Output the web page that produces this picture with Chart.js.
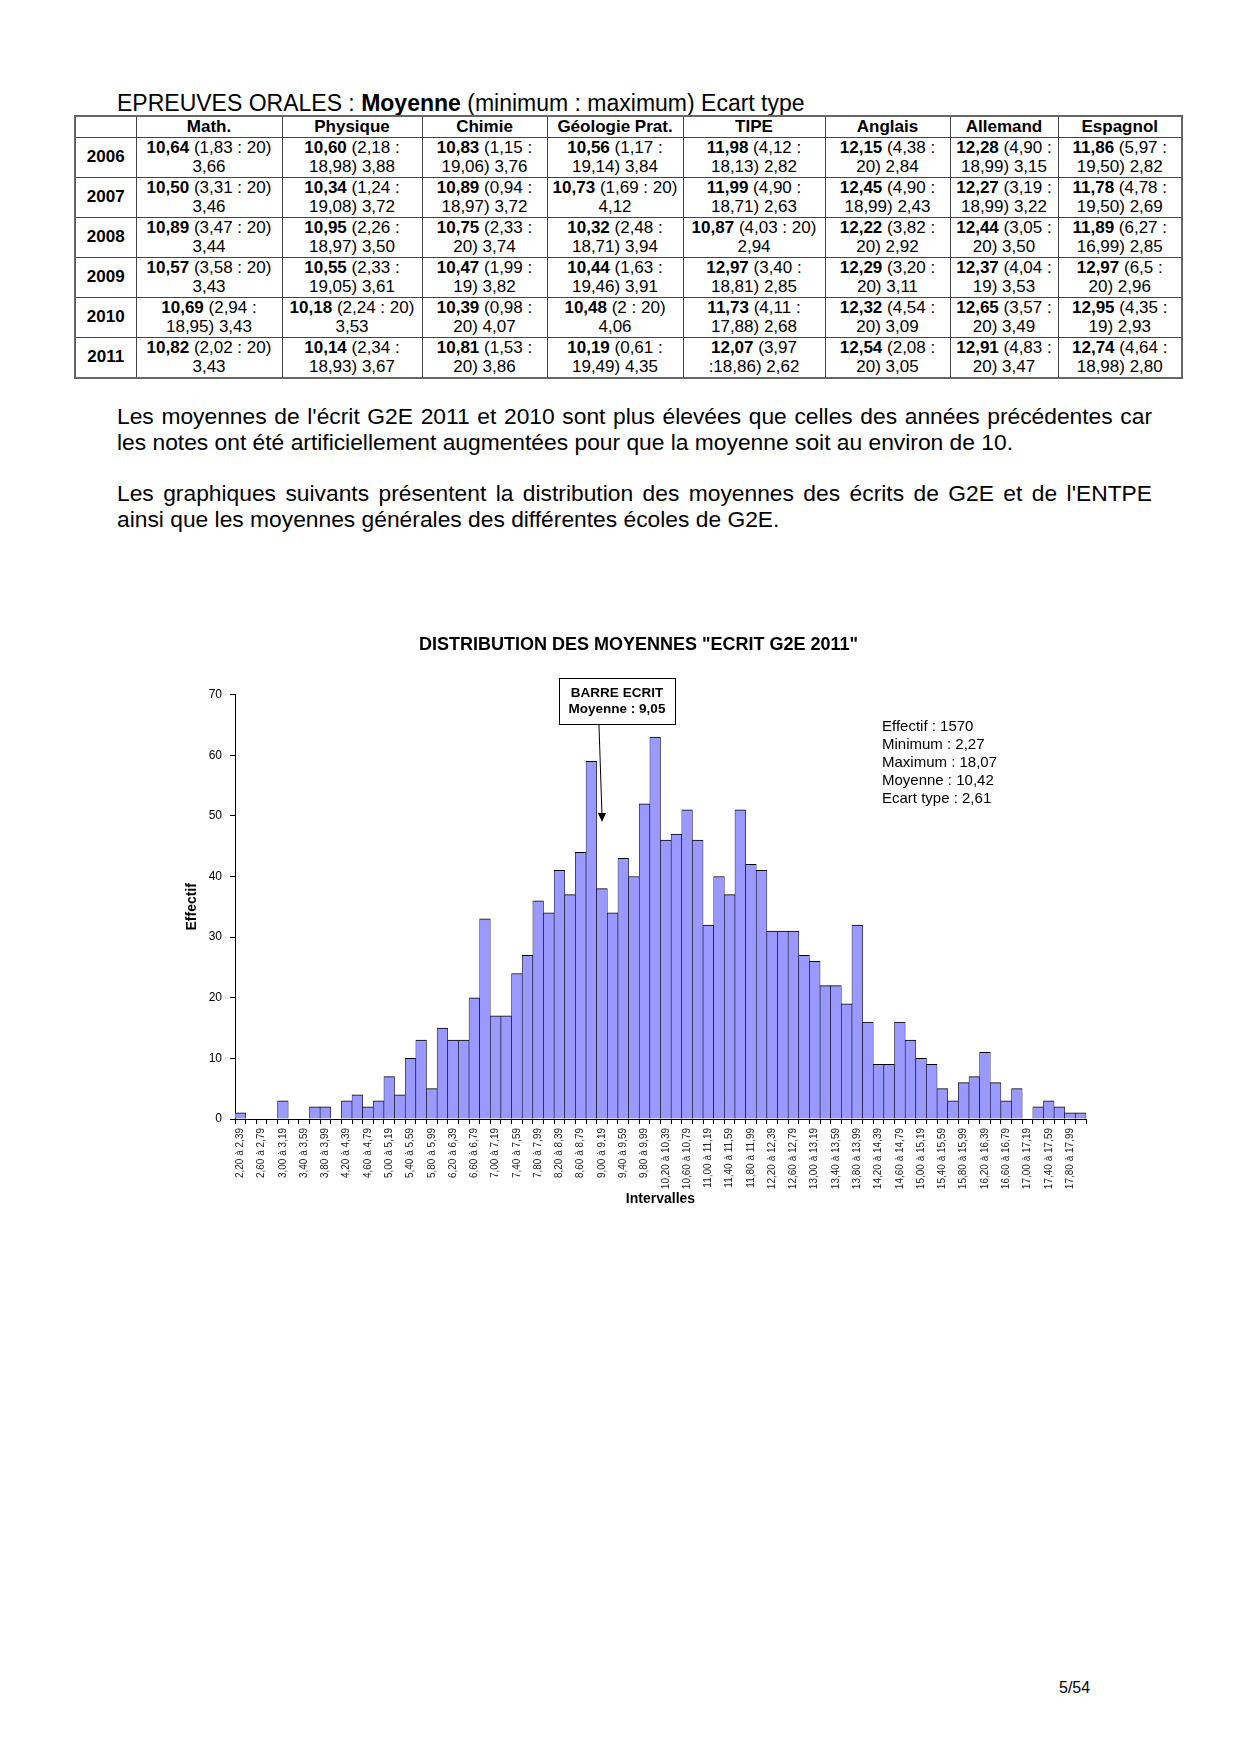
<!DOCTYPE html>
<html lang="fr">
<head>
<meta charset="utf-8">
<title>Distribution des moyennes - Ecrit G2E 2011</title>
<script src="https://cdn.jsdelivr.net/npm/chart.js@4.4.0/dist/chart.umd.min.js"></script>
<style>
    body { margin: 0; background: #fff; color: #000; font-family: "Liberation Sans", Arial, sans-serif; }
    .page { position: relative; width: 1240px; height: 1754px; overflow: hidden; }

    .oral-title { position: absolute; left: 117px; top: 90px; font-size: 23px; line-height: 27px; white-space: nowrap; }

    .oral-table { position: absolute; left: 74px; top: 115px; width: 1107px; border-collapse: collapse; table-layout: fixed; border: 2px solid #666; }
    .oral-table td, .oral-table th { border: 1px solid #444; padding: 0; text-align: center; font-size: 17px; line-height: 19.5px; white-space: nowrap; }
    .oral-table th { font-weight: bold; height: 19px; }
    .oral-table tbody tr { height: 39.5px; }
    .oral-table td.year { font-weight: bold; }

    .text { position: absolute; left: 117px; width: 1035px; margin: 0; font-size: 22.8px; line-height: 25.7px; }
    .text .full { text-align: justify; text-align-last: justify; }

    #chart { position: absolute; left: 160px; top: 620px; }

    .page-number { position: absolute; left: 1059px; top: 1679px; font-size: 16px; }
</style>
</head>
<body>
<div class="page">
    <div class="oral-title">EPREUVES ORALES : <b>Moyenne</b> (minimum : maximum) Ecart type</div>
    <table class="oral-table" id="oralTable"></table>

    <div class="text" style="top: 404px;">
        <div class="full">Les moyennes de l'écrit G2E 2011 et 2010 sont plus élevées que celles des années précédentes car</div>
        <div>les notes ont été artificiellement augmentées pour que la moyenne soit au environ de 10.</div>
    </div>
    <div class="text" style="top: 481px;">
        <div class="full">Les graphiques suivants présentent la distribution des moyennes des écrits de G2E et de l'ENTPE</div>
        <div>ainsi que les moyennes générales des différentes écoles de G2E.</div>
    </div>

    <canvas id="chart" width="950" height="600"></canvas>

    <div class="page-number">5/54</div>
</div>

<script>
// ---- oral exams table ----
const subjects = ['Math.', 'Physique', 'Chimie', 'Géologie Prat.', 'TIPE', 'Anglais', 'Allemand', 'Espagnol'];
const years = ['2006', '2007', '2008', '2009', '2010', '2011'];
const colWidths = [61, 146, 140, 125, 136, 142, 125, 108, 124];
const oralRows = [
    ['10,64 (1,83 : 20)|3,66', '10,60 (2,18 :|18,98) 3,88', '10,83 (1,15 :|19,06) 3,76', '10,56 (1,17 :|19,14) 3,84', '11,98 (4,12 :|18,13) 2,82', '12,15 (4,38 :|20) 2,84', '12,28 (4,90 :|18,99) 3,15', '11,86 (5,97 :|19,50) 2,82'],
    ['10,50 (3,31 : 20)|3,46', '10,34 (1,24 :|19,08) 3,72', '10,89 (0,94 :|18,97) 3,72', '10,73 (1,69 : 20)|4,12', '11,99 (4,90 :|18,71) 2,63', '12,45 (4,90 :|18,99) 2,43', '12,27 (3,19 :|18,99) 3,22', '11,78 (4,78 :|19,50) 2,69'],
    ['10,89 (3,47 : 20)|3,44', '10,95 (2,26 :|18,97) 3,50', '10,75 (2,33 :|20) 3,74', '10,32 (2,48 :|18,71) 3,94', '10,87 (4,03 : 20)|2,94', '12,22 (3,82 :|20) 2,92', '12,44 (3,05 :|20) 3,50', '11,89 (6,27 :|16,99) 2,85'],
    ['10,57 (3,58 : 20)|3,43', '10,55 (2,33 :|19,05) 3,61', '10,47 (1,99 :|19) 3,82', '10,44 (1,63 :|19,46) 3,91', '12,97 (3,40 :|18,81) 2,85', '12,29 (3,20 :|20) 3,11', '12,37 (4,04 :|19) 3,53', '12,97 (6,5 :|20) 2,96'],
    ['10,69 (2,94 :|18,95) 3,43', '10,18 (2,24 : 20)|3,53', '10,39 (0,98 :|20) 4,07', '10,48 (2 : 20)|4,06', '11,73 (4,11 :|17,88) 2,68', '12,32 (4,54 :|20) 3,09', '12,65 (3,57 :|20) 3,49', '12,95 (4,35 :|19) 2,93'],
    ['10,82 (2,02 : 20)|3,43', '10,14 (2,34 :|18,93) 3,67', '10,81 (1,53 :|20) 3,86', '10,19 (0,61 :|19,49) 4,35', '12,07 (3,97|:18,86) 2,62', '12,54 (2,08 :|20) 3,05', '12,91 (4,83 :|20) 3,47', '12,74 (4,64 :|18,98) 2,80']
];

// ---- histogram data ----
// one tick label every other interval (width 0,20)
const intervalLabels = [
    '2,20 à 2,39', '2,60 à 2,79', '3,00 à 3,19', '3,40 à 3,59', '3,80 à 3,99',
    '4,20 à 4,39', '4,60 à 4,79', '5,00 à 5,19', '5,40 à 5,59', '5,80 à 5,99',
    '6,20 à 6,39', '6,60 à 6,79', '7,00 à 7,19', '7,40 à 7,59', '7,80 à 7,99',
    '8,20 à 8,39', '8,60 à 8,79', '9,00 à 9,19', '9,40 à 9,59', '9,80 à 9,99',
    '10,20 à 10,39', '10,60 à 10,79', '11,00 à 11,19', '11,40 à 11,59', '11,80 à 11,99',
    '12,20 à 12,39', '12,60 à 12,79', '13,00 à 13,19', '13,40 à 13,59', '13,80 à 13,99',
    '14,20 à 14,39', '14,60 à 14,79', '15,00 à 15,19', '15,40 à 15,59', '15,80 à 15,99',
    '16,20 à 16,39', '16,60 à 16,79', '17,00 à 17,19', '17,40 à 17,59', '17,80 à 17,99'
];
const effectifs = [
    1, 0, 0, 0, 3, 0, 0, 2, 2, 0,
    3, 4, 2, 3, 7, 4, 10, 13, 5, 15,
    13, 13, 20, 33, 17, 17, 24, 27, 36, 34,
    41, 37, 44, 59, 38, 34, 43, 40, 52, 63,
    46, 47, 51, 46, 32, 40, 37, 51, 42, 41,
    31, 31, 31, 27, 26, 22, 22, 19, 32, 16,
    9, 9, 16, 13, 10, 9, 5, 3, 6, 7,
    11, 6, 3, 5, 0, 2, 3, 2, 1, 1
];
const statsLines = ['Effectif : 1570', 'Minimum : 2,27', 'Maximum : 18,07', 'Moyenne : 10,42', 'Ecart type : 2,61'];
const barreLines = ['BARRE ECRIT', 'Moyenne : 9,05'];
const barreBin = 34;       // interval 9,00 à 9,19
const barreArrowValue = 49;

const FONT = '"Liberation Sans", Arial, sans-serif';

function buildTable() {
    const table = document.querySelector('#oralTable');
    let html = '<colgroup>' + colWidths.map(w => `<col style="width:${w}px">`).join('') + '</colgroup>';
    html += '<thead><tr><th></th>' + subjects.map(s => `<th>${s}</th>`).join('') + '</tr></thead><tbody>';
    oralRows.forEach((row, i) => {
        html += `<tr><td class="year">${years[i]}</td>`;
        row.forEach(cell => {
            const [first, second] = cell.split('|');
            const cut = first.indexOf(' ');
            html += `<td><b>${first.slice(0, cut)}</b>${first.slice(cut)}<br>${second}</td>`;
        });
        html += '</tr>';
    });
    table.innerHTML = html + '</tbody>';
}
buildTable();

// text and arrow drawn on top of the histogram
const annotations = {
    id: 'annotations',
    afterDatasetsDraw(chart) {
        const { ctx, scales: { x, y } } = chart;
        ctx.save();

        // "BARRE ECRIT" box
        ctx.fillStyle = '#fff';
        ctx.strokeStyle = '#000';
        ctx.lineWidth = 1;
        ctx.fillRect(399.5, 58.5, 116, 46);
        ctx.strokeRect(399.5, 58.5, 116, 46);
        ctx.fillStyle = '#000';
        ctx.font = `bold 13.5px ${FONT}`;
        ctx.textAlign = 'center';
        ctx.textBaseline = 'middle';
        ctx.fillText(barreLines[0], 457, 73);
        ctx.fillText(barreLines[1], 457, 89);

        // arrow down to the interval holding 9,05
        const tipX = x.getPixelForValue(barreBin);
        const tipY = y.getPixelForValue(barreArrowValue);
        ctx.beginPath();
        ctx.moveTo(tipX - 3, 105);
        ctx.lineTo(tipX, tipY - 6);
        ctx.stroke();
        ctx.beginPath();
        ctx.moveTo(tipX, tipY);
        ctx.lineTo(tipX - 4, tipY - 9);
        ctx.lineTo(tipX + 4, tipY - 9);
        ctx.closePath();
        ctx.fill();

        // statistics
        ctx.font = `15px ${FONT}`;
        ctx.textAlign = 'left';
        statsLines.forEach((line, i) => ctx.fillText(line, 722, 107 + i * 18));

        ctx.restore();
    }
};

function chartManagement() {
    const labels = effectifs.map((v, i) => i % 2 === 0 ? intervalLabels[i / 2] : '');
    Chart.defaults.font.family = FONT;
    Chart.defaults.color = '#000';

    const ctx = document.querySelector('#chart');
    new Chart(ctx, {
        type: 'bar',
        data: {
            labels,
            datasets: [{
                data: effectifs,
                backgroundColor: '#9999ff',
                borderColor: '#000',
                borderWidth: { top: 1, left: 0.6, right: 0.6, bottom: 0 },
                barPercentage: 1,
                categoryPercentage: 1
            }]
        },
        options: {
            responsive: false,
            animation: false,
            devicePixelRatio: 1,
            // left padding shifts the centred title to the right
            layout: { padding: { left: 31, right: 24, top: 0, bottom: 0 } },
            plugins: {
                legend: { display: false },
                tooltip: { enabled: false },
                title: {
                    display: true,
                    text: 'DISTRIBUTION DES MOYENNES "ECRIT G2E 2011"',
                    color: '#000',
                    font: { size: 18, weight: 'bold' },
                    padding: { top: 14, bottom: 39 }
                }
            },
            scales: {
                x: {
                    grid: { drawOnChartArea: false, color: '#000', tickLength: 5, offset: true },
                    border: { color: '#000' },
                    ticks: { autoSkip: false, minRotation: 90, maxRotation: 90, padding: 4, color: '#222', font: { size: 10 } },
                    title: { display: true, text: 'Intervalles', color: '#000', font: { size: 14, weight: 'bold' }, padding: { top: 0, bottom: 12 } },
                    afterFit: scale => { scale.height = 101; }
                },
                y: {
                    min: 0,
                    max: 70,
                    grid: { drawOnChartArea: false, color: '#000', tickLength: 5 },
                    border: { color: '#000' },
                    ticks: { stepSize: 10, padding: 8, color: '#000', font: { size: 12 } },
                    title: { display: true, text: 'Effectif', color: '#000', font: { size: 14, weight: 'bold' }, padding: { top: -7, bottom: 0 } },
                    afterFit: scale => { scale.width = 44; }
                }
            }
        },
        plugins: [annotations]
    });
}
chartManagement();
</script>
</body>
</html>
